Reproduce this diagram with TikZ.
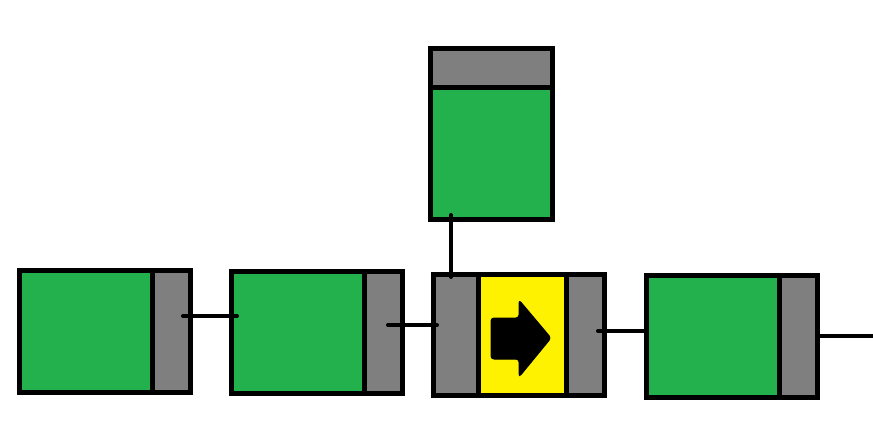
\documentclass[tikz,border=0pt]{standalone}
\usetikzlibrary{calc}
\definecolor{pgreen}{HTML}{22B14C}
\definecolor{pgray}{HTML}{7F7F7F}
\definecolor{pyellow}{HTML}{FFF200}
\begin{document}
\begin{tikzpicture}[x=1pt,y=-1pt,
  part/.style={draw=black,line width=5pt,inner sep=0pt,outer sep=0pt,rectangle},
  grn/.style={part,fill=pgreen},
  gry/.style={part,fill=pgray},
  yel/.style={part,fill=pyellow},
  wire/.style={draw=black,line width=4pt,line cap=round}]
\useasboundingbox[fill=white] (0,0) rectangle (873,429);
% box 1
\node[grn,minimum width=133pt,minimum height=122pt] (b1g) at (86,331.5) {};
\node[gry,minimum width=38pt,minimum height=122pt] (b1r) at (171.5,331.5) {};
% box 2
\node[grn,minimum width=133.5pt,minimum height=122.5pt] (b2g) at (297.75,332.25) {};
\node[gry,minimum width=38pt,minimum height=122.5pt] (b2r) at (383.5,332.25) {};
% box 3
\node[gry,minimum width=45pt,minimum height=121pt] (b3l) at (456,335) {};
\node[yel,minimum width=88pt,minimum height=121pt] (b3y) at (522.5,335) {};
\node[gry,minimum width=38pt,minimum height=121pt] (b3r) at (585.5,335) {};
\fill[black,draw=black,line width=1pt,rounded corners=3pt]
  (491,318) -- (519,318) -- (519,300) -- (551,338) -- (519,377) -- (519,359) -- (491,359) -- cycle;
% box 4
\node[grn,minimum width=132.5pt,minimum height=122pt] (b4g) at (712.75,336.5) {};
\node[gry,minimum width=38.5pt,minimum height=122pt] (b4r) at (798.25,336.5) {};
% top box
\node[gry,minimum width=122pt,minimum height=38.5pt] (tth) at (491.5,67.75) {};
\node[grn,minimum width=122pt,minimum height=132.5pt] (ttg) at (491.5,153.25) {};
% connector end points
\coordinate (c1a) at (183,316);
\coordinate (c1b) at (237,316);
\coordinate (c2a) at (388,325);
\coordinate (c2b) at (437,325);
\coordinate (c3a) at (598,331);
\coordinate (c3b) at (645,331);
\coordinate (c4a) at (820,336);
\coordinate (c4b) at (873,336);
\coordinate (cva) at (451,215);
\coordinate (cvb) at (451,277);
\draw[wire] (c1a) -- (c1b);
\draw[wire] (c2a) -- (c2b);
\draw[wire] (c3a) -- (c3b);
\draw[wire,line cap=butt] (c4a) -- (c4b);
\draw[wire] (cva) -- (cvb);
\end{tikzpicture}
\end{document}
